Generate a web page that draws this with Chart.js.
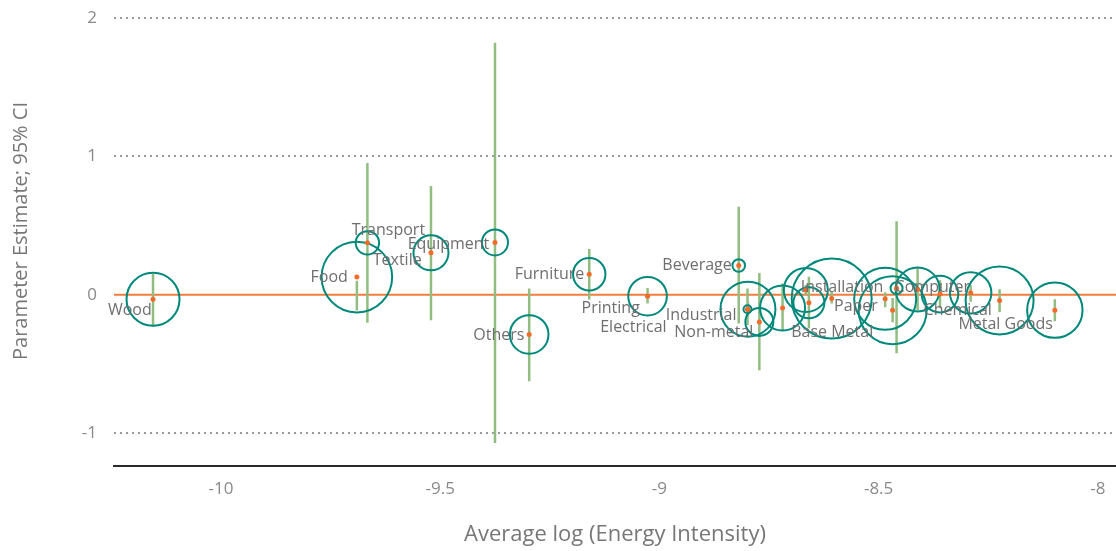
<!DOCTYPE html>
<html><head><meta charset="utf-8">
<script src="https://cdn.jsdelivr.net/npm/chart.js@4.4.1/dist/chart.umd.min.js"></script>
<style>html,body{margin:0;padding:0;background:#fff;overflow:hidden}canvas{display:block}</style>
</head><body>
<canvas id="c" width="1116" height="551"></canvas>
<script>
// ---- data ----
const industries   = ['Wood','Food','Transport','Textile','Equipment','Others','Furniture','Printing','Beverage','Industrial','Electrical','Non-metal','','','','','Paper','Base Metal','Installation','','','Computer','Chemical','Metal Goods'];
const avgLogEnergy = [-10.155,-9.690,-9.666,-9.521,-9.375,-9.297,-9.160,-9.027,-8.819,-8.799,-8.798,-8.772,-8.719,-8.666,-8.659,-8.607,-8.485,-8.468,-8.459,-8.411,-8.360,-8.290,-8.224,-8.098];
const estimates    = [-0.033,0.127,0.375,0.303,0.378,-0.288,0.148,-0.011,0.211,-0.105,-0.105,-0.197,-0.096,0.033,-0.059,-0.028,-0.030,-0.112,0.047,0.038,0.004,0.013,-0.042,-0.112];
const ciLower      = [-0.23,-0.115,-0.204,-0.185,-1.073,-0.626,-0.035,-0.064,-0.209,-0.22,-0.16,-0.547,-0.257,0.0,-0.243,-0.064,-0.091,-0.199,-0.424,-0.112,-0.098,-0.052,-0.125,-0.192];
const ciUpper      = [0.15,0.10,0.952,0.786,1.823,0.045,0.33,0.049,0.636,0.045,-0.05,0.156,0.081,0.07,0.129,0.02,0.018,-0.025,0.532,0.192,0.105,0.069,0.040,-0.033];
const bubbleSize   = [26.5,35.3,11.7,17.5,13,19.3,16.2,19.3,6.3,4,27.5,14,22.5,22,15.5,40,31,34,6,22,18.3,20.7,34,27.7];
const xTicks = [-10,-9.5,-9,-8.5,-8];
const yTicks = [-1,0,1,2];
const xRange = [-10.244,-7.9585];
const yRange = [-1.237,2];

// ---- label placement (pixel offsets from each point, right-aligned text) ----
const labelOffsets = {
  'Wood':[-1.3,11.5],'Food':[-9,0],'Transport':[57.7,-12.7],'Textile':[-9.3,7.3],
  'Equipment':[-5.7,2],'Others':[-4.7,0.7],'Furniture':[-5,0],'Printing':[-7.7,12.3],
  'Beverage':[-7,0],'Industrial':[-11,6],'Electrical':[-81.3,18.3],'Non-metal':[-6,11],
  'Paper':[-7.3,8],'Base Metal':[-19.4,22.7],'Installation':[-13.2,-0.7],
  'Computer':[-0.7,-5.4],'Chemical':[-7.7,9.7],'Metal Goods':[-2,14.3]
};

Chart.defaults.font.family = '"Open Sans", "DejaVu Sans", sans-serif';

const ciData = [];
avgLogEnergy.forEach((x,i)=>{ ciData.push({x, y:ciLower[i]}, {x, y:ciUpper[i]}, {x, y:null}); });

const labelPlugin = {
  id:'pointLabels',
  afterDatasetsDraw(chart){
    const {ctx, scales:{x, y}} = chart;
    ctx.save();
    ctx.font = '16px "Open Sans"';
    ctx.fillStyle = '#6e6e6e';
    ctx.textAlign = 'right';
    ctx.textBaseline = 'middle';
    industries.forEach((name,i)=>{
      if(!name) return;
      const off = labelOffsets[name] || [-6,0];
      ctx.fillText(name, x.getPixelForValue(avgLogEnergy[i]) + off[0], y.getPixelForValue(estimates[i]) + off[1]);
    });
    // y-axis title
    ctx.save();
    ctx.translate(21, 231);
    ctx.rotate(-Math.PI/2);
    ctx.font = '20px "Open Sans"';
    ctx.fillStyle = '#777';
    ctx.textAlign = 'center';
    ctx.fillText('Parameter Estimate; 95% CI', 0, 0);
    ctx.restore();
    ctx.restore();
  }
};

new Chart(document.getElementById('c'), {
  type:'scatter',
  data:{
    datasets:[
      { type:'line', data:[{x:xRange[0],y:0},{x:xRange[1],y:0}], borderColor:'#f47c3c', borderWidth:2, pointRadius:0, order:4 },
      { type:'line', data:ciData, borderColor:'#91bd80', borderWidth:2.5, pointRadius:0, spanGaps:false, order:3 },
      { type:'bubble', data:avgLogEnergy.map((x,i)=>({x, y:estimates[i], r:bubbleSize[i]})), borderColor:'#00897b', borderWidth:2, backgroundColor:'rgba(0,0,0,0)', clip:false, order:2 },
      { type:'scatter', data:avgLogEnergy.map((x,i)=>({x, y:estimates[i]})), backgroundColor:'#f26b2a', borderWidth:0, pointRadius:2.5, order:1 }
    ]
  },
  options:{
    responsive:false, animation:false, events:[], devicePixelRatio:1,
    layout:{ autoPadding:false, padding:{ top:18.3, right:0, left:0, bottom:0 } },
    plugins:{ legend:{display:false}, tooltip:{enabled:false} },
    scales:{
      x:{
        type:'linear', min:xRange[0], max:xRange[1],
        afterBuildTicks:s=>{ s.ticks = xTicks.map(v=>({value:v})); },
        afterFit:s=>{ s.height = 85.4; s.paddingLeft = 0; s.paddingRight = 0; },
        grid:{ display:false },
        border:{ display:true, color:'#2a2a2a', width:2 },
        ticks:{ padding:5, color:'#8a8a8a', font:{size:17}, callback:v=>String(v) },
        title:{ display:true, text:'Average log (Energy Intensity)', color:'#777', font:{size:22}, padding:{top:0,bottom:3} }
      },
      y:{
        type:'linear', min:yRange[0], max:yRange[1],
        afterBuildTicks:s=>{ s.ticks = yTicks.map(v=>({value:v})); },
        afterFit:s=>{ s.width = 114; s.paddingTop = 0; s.paddingBottom = 0; },
        grid:{ color:c=> (c.tick && c.tick.value===0) ? 'rgba(0,0,0,0)' : '#9a9a9a', lineWidth:2, drawTicks:false },
        border:{ display:false, dash:[2,4] },
        ticks:{ padding:17, color:'#8a8a8a', font:{size:17}, callback:v=>String(v) },
        title:{ display:false }
      }
    }
  },
  plugins:[labelPlugin]
});
</script>
</body></html>
